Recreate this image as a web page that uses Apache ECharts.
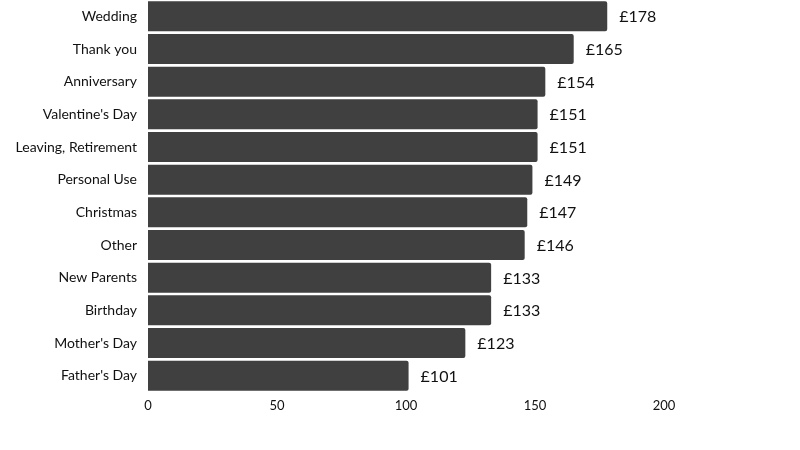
<!DOCTYPE html>
<html lang="en">
    <head>
        <meta charset="UTF-8" />
        <title>Average spend by occasion</title>
        <script src="https://cdn.jsdelivr.net/npm/echarts@6.0.0/dist/echarts.min.js"></script>
        <style>
            body,
            html {
                margin: 0;
                padding: 0;
                width: 100%;
                height: 100%;
                overflow: hidden;
                background-color: #fff;
            }
            #main {
                width: 800px;
                height: 450px;
            }
        </style>
    </head>
    <body>
        <div id="main"></div>
        <script>
            // top to bottom as drawn
            const occasions = [
                "Wedding",
                "Thank you",
                "Anniversary",
                "Valentine's Day",
                "Leaving, Retirement",
                "Personal Use",
                "Christmas",
                "Other",
                "New Parents",
                "Birthday",
                "Mother's Day",
                "Father's Day",
            ]
            const spend = [178, 165, 154, 151, 151, 149, 147, 146, 133, 133, 123, 101]
            const xTicks = [0, 50, 100, 150, 200]

            const chart = echarts.init(document.getElementById("main"))

            const option = {
                animation: false,
                textStyle: { fontFamily: "Lato" },
                grid: { left: 148, right: 7, top: -2, bottom: 58 },
                xAxis: {
                    type: "value",
                    min: 0,
                    max: 250,
                    interval: 50,
                    axisLine: { show: false },
                    axisTick: { show: false },
                    splitLine: { show: false },
                    axisLabel: {
                        color: "#111",
                        fontSize: 13,
                        margin: 7,
                        formatter: (v) => (xTicks.includes(v) ? String(v) : ""),
                    },
                },
                yAxis: {
                    type: "category",
                    data: occasions,
                    inverse: true,
                    axisLine: { show: false },
                    axisTick: { show: false },
                    axisLabel: { color: "#111", fontSize: 14, margin: 11, padding: [0, 0, 4, 0] },
                },
                series: [
                    {
                        type: "bar",
                        data: spend,
                        barCategoryGap: "8%",
                        itemStyle: {
                            color: "#404040",
                            borderRadius: [0, 2, 2, 0],
                        },
                        label: {
                            show: true,
                            position: "right",
                            distance: 12,
                            offset: [0, 1],
                            color: "#111",
                            fontSize: 16,
                            formatter: (p) => "£" + p.value,
                        },
                    },
                ],
            }
            chart.setOption(option)
        </script>
    </body>
</html>
